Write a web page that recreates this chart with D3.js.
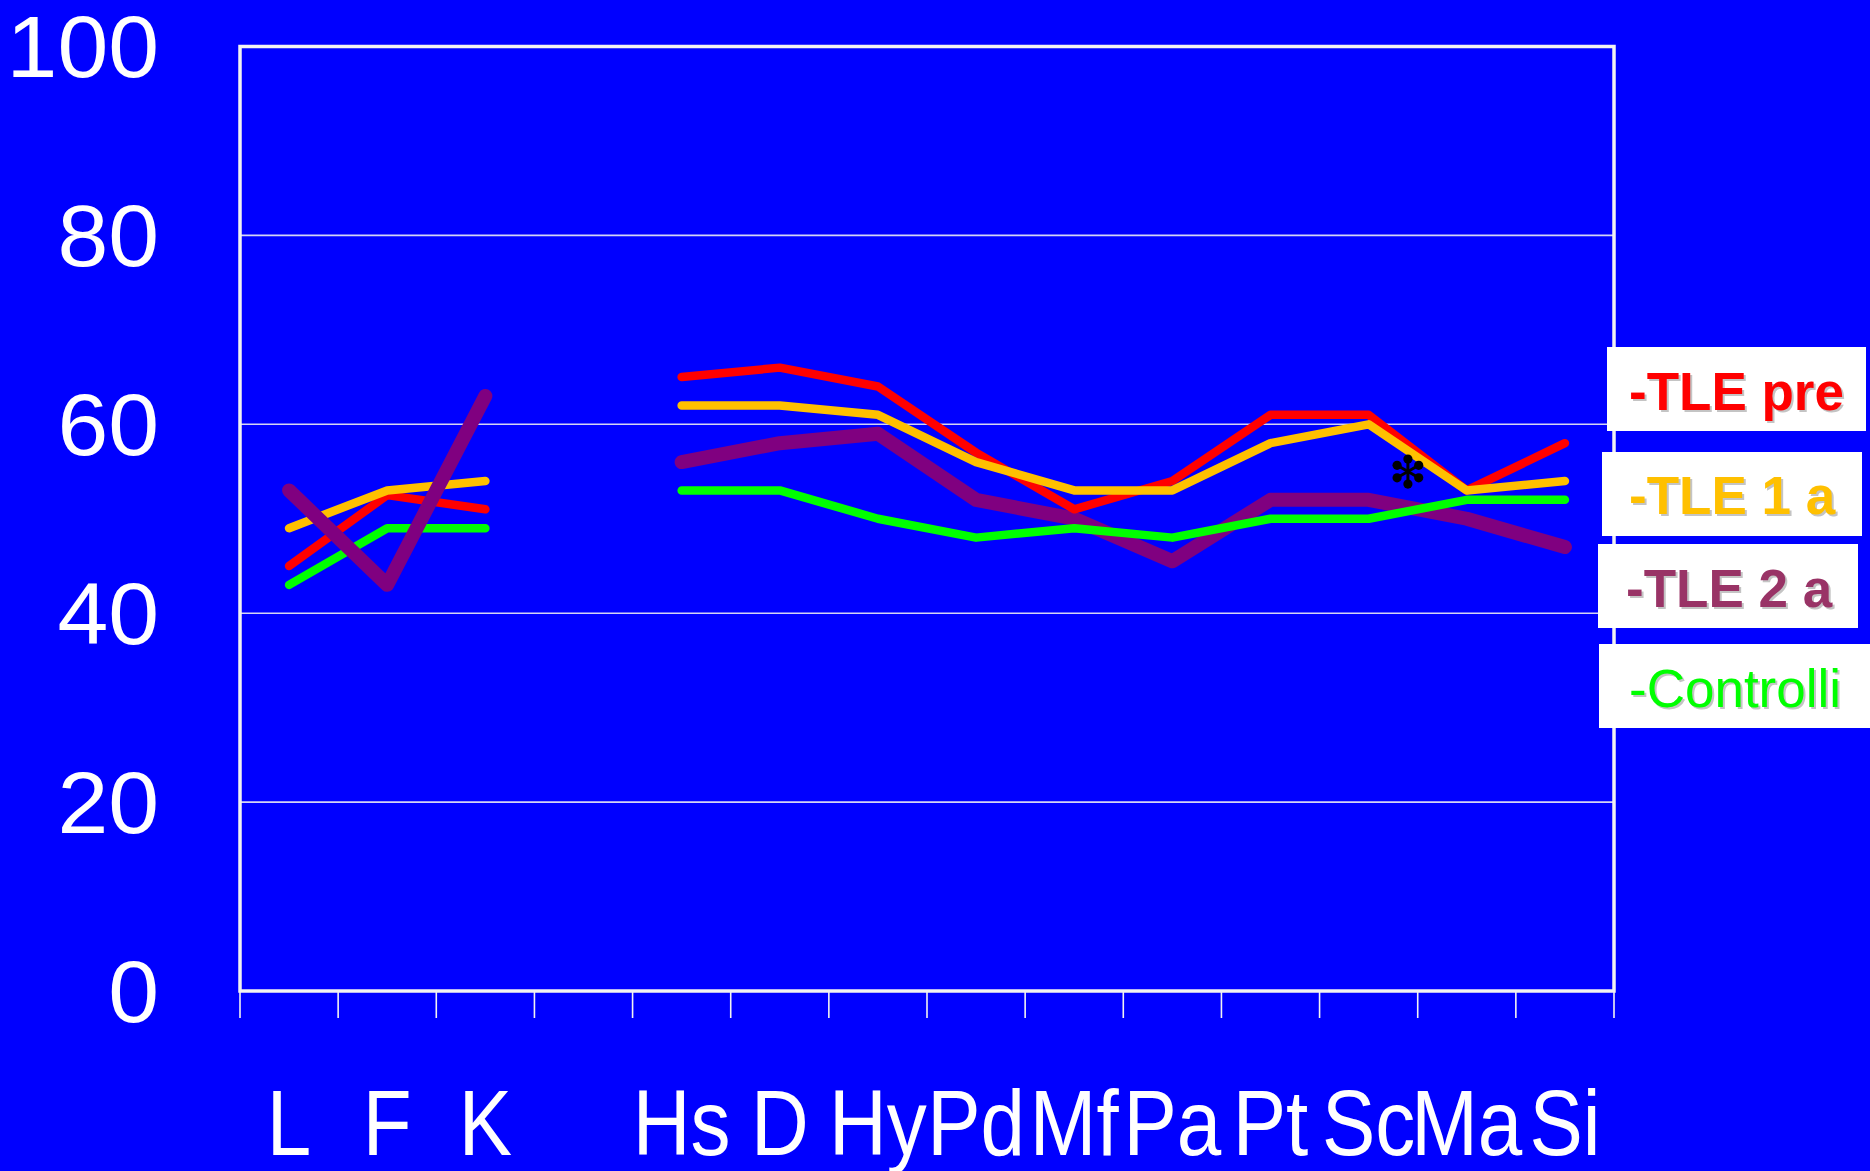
<!DOCTYPE html>
<html>
<head>
<meta charset="utf-8">
<script src="https://cdn.jsdelivr.net/npm/d3@7/dist/d3.min.js"></script>
<style>
  html, body { margin: 0; padding: 0; background: #0000FF; }
  svg { display: block; }
  text { font-family: "Liberation Sans", Arial, sans-serif; }
</style>
</head>
<body>
<svg id="chart" width="1870" height="1171"></svg>
<script>
// ---- data ----
const categories = ["L", "F", "K", "", "Hs", "D", "Hy", "Pd", "Mf", "Pa", "Pt", "Sc", "Ma", "Si"];
const seriesNames = ["-TLE pre", "-TLE 1 a", "-TLE 2 a", "-Controlli"];
const tlePre     = [45, 52.5, 51, null, 65, 66, 64, 57, 51, 54, 61, 61, 53, 58];
const tle1a      = [49, 53, 54, null, 62, 62, 61, 56, 53, 53, 58, 60, 53, 54];
const tle2a      = [53, 43, 63, null, 56, 58, 59, 52, 50, 45.5, 52, 52, 50, 47];
const controlli  = [43, 49, 49, null, 53, 53, 50, 48, 49, 48, 50, 50, 52, 52];
const yTicks = [0, 20, 40, 60, 80, 100];
const starCategory = "Sc";   // asterisk placed between Sc and Ma
const starValue = 55;

// ---- styles ----
const lineColors = ["#FF0000", "#FFC000", "#800080", "#00FF00"];
const legendColors = ["#FF0000", "#FFC000", "#993366", "#00FF00"];
const lineWidths = [8.5, 8.5, 14, 8.5];

const svg = d3.select("#chart");
const W = 1870, H = 1171;
const plot = { left: 240, right: 1614, top: 46.5, bottom: 991 };

svg.append("rect").attr("width", W).attr("height", H).attr("fill", "#0000FF");

const xBand = d3.scaleBand().domain(categories).range([plot.left, plot.right]).padding(0);
const x = d3.scalePoint().domain(categories).range([plot.left, plot.right]).padding(0.5);
const y = d3.scaleLinear().domain([0, 100]).range([plot.bottom, plot.top]);

// gridlines
svg.append("g").selectAll("line").data(yTicks.filter(t => t > 0 && t < 100)).join("line")
  .attr("x1", plot.left).attr("x2", plot.right)
  .attr("y1", d => y(d)).attr("y2", d => y(d))
  .attr("stroke", "#D4D4F4").attr("stroke-width", 1.6);

// plot frame
svg.append("rect")
  .attr("x", plot.left).attr("y", plot.top)
  .attr("width", plot.right - plot.left).attr("height", plot.bottom - plot.top)
  .attr("fill", "none").attr("stroke", "#F2F2F2").attr("stroke-width", 3.5);

// x tick marks at band boundaries
const boundaries = categories.map(c => xBand(c)).concat([plot.right]);
svg.append("g").selectAll("line").data(boundaries).join("line")
  .attr("x1", d => d).attr("x2", d => d)
  .attr("y1", plot.bottom).attr("y2", plot.bottom + 27)
  .attr("stroke", "#F2F2F2").attr("stroke-width", 1.6);

// y labels (slightly widened)
svg.append("g").selectAll("text").data(yTicks).join("text")
  .attr("transform", d => `translate(159,${y(d)}) scale(1.05,1)`)
  .attr("dy", "0.355em")
  .attr("text-anchor", "end")
  .attr("font-size", 87)
  .attr("fill", "#FFFFFF")
  .text(d => d);

// x labels (slightly condensed)
svg.append("g").selectAll("text").data(categories.filter(c => c !== "")).join("text")
  .attr("transform", d => `translate(${x(d)},1155) scale(0.86,1)`)
  .attr("text-anchor", "middle")
  .attr("font-size", 93)
  .attr("fill", "#FFFFFF")
  .text(d => d);

// lines
const seriesData = [tlePre, tle1a, tle2a, controlli];
const line = d3.line()
  .defined(d => d.v !== null)
  .x(d => x(d.c)).y(d => y(d.v));

function segment(arr, from, to) {
  return categories.slice(from, to).map((c, i) => ({ c, v: arr[from + i] }));
}
// left block (L, F, K): purple drawn on top
const leftOrder = [0, 1, 3, 2];
// right block (Hs..Si): purple underneath
const rightOrder = [2, 0, 1, 3];
const gLeft = svg.append("g");
leftOrder.forEach(i => {
  gLeft.append("path").datum(segment(seriesData[i], 0, 3))
    .attr("d", line).attr("fill", "none")
    .attr("stroke", lineColors[i]).attr("stroke-width", lineWidths[i])
    .attr("stroke-linecap", "round").attr("stroke-linejoin", "round");
});
const gRight = svg.append("g");
rightOrder.forEach(i => {
  gRight.append("path").datum(segment(seriesData[i], 4, 14))
    .attr("d", line).attr("fill", "none")
    .attr("stroke", lineColors[i]).attr("stroke-width", lineWidths[i])
    .attr("stroke-linecap", "round").attr("stroke-linejoin", "round");
});

// asterisk annotation
const star = svg.append("g")
  .attr("transform", `translate(${x(starCategory) + x.step() * 0.4},${y(starValue)})`);
[90, 30, -30, -90, 150, 210].forEach(a => {
  const r = a * Math.PI / 180;
  star.append("line").attr("x1", 0).attr("y1", 0)
    .attr("x2", 12 * Math.cos(r)).attr("y2", -12 * Math.sin(r))
    .attr("stroke", "#000").attr("stroke-width", 3);
  star.append("circle").attr("cx", 12.5 * Math.cos(r)).attr("cy", -12.5 * Math.sin(r))
    .attr("r", 4.6).attr("fill", "#000");
});

// legend
const legendBoxes = [
  { x: 1607, y: 347, w: 259 },
  { x: 1602, y: 452, w: 260 },
  { x: 1598, y: 544, w: 260 },
  { x: 1599, y: 644, w: 275 }
];
const legendBaselines = [410, 514, 607, 707];
const legendTextX = [1629, 1629, 1626, 1629];
const legendWeights = ["bold", "bold", "bold", "normal"];
const lg = svg.append("g");
seriesNames.forEach((name, i) => {
  const b = legendBoxes[i];
  lg.append("rect").attr("x", b.x).attr("y", b.y).attr("width", b.w).attr("height", 84)
    .attr("fill", "#FFFFFF");
  lg.append("text").attr("x", legendTextX[i] + 2).attr("y", legendBaselines[i] + 2)
    .attr("font-size", 53).attr("font-weight", legendWeights[i])
    .attr("fill", "#C4C4C4").text(name);
  lg.append("text").attr("x", legendTextX[i]).attr("y", legendBaselines[i])
    .attr("font-size", 53).attr("font-weight", legendWeights[i])
    .attr("fill", legendColors[i]).text(name);
});
</script>
</body>
</html>
